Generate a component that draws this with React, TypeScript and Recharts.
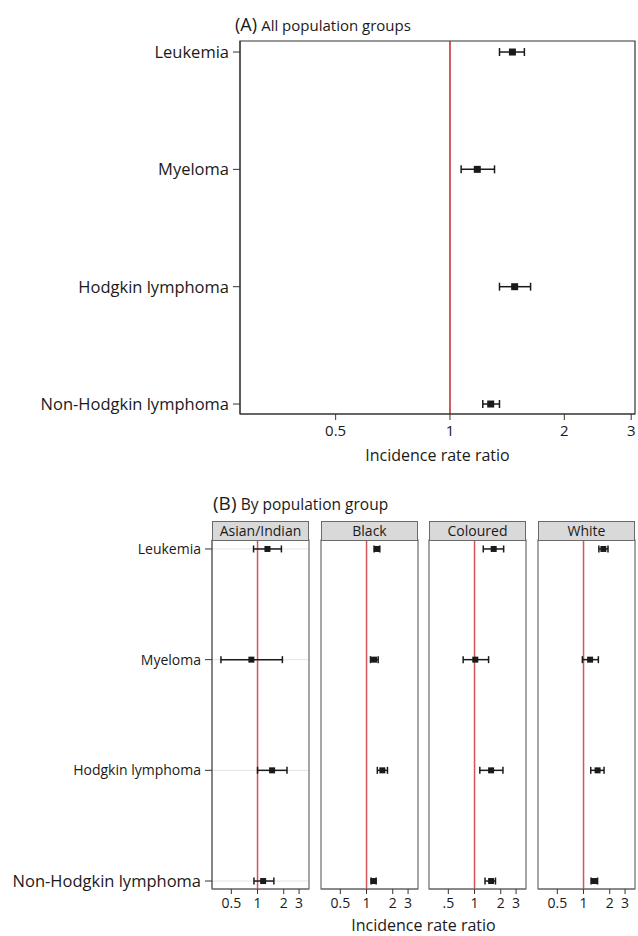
import React from 'react';
import {
  ScatterChart,
  Scatter,
  XAxis,
  YAxis,
  ErrorBar,
  ReferenceLine,
  ReferenceArea,
  CartesianGrid,
} from 'recharts';

// categories (top to bottom)
const diseases = ['Leukemia', 'Myeloma', 'Hodgkin lymphoma', 'Non-Hodgkin lymphoma'];
const rows = [1, 2, 3, 4];

// (A) all population groups: incidence rate ratio + 95% CI
const allIrr = [1.46, 1.18, 1.48, 1.28];
const allLow = [1.35, 1.07, 1.35, 1.22];
const allHigh = [1.57, 1.31, 1.63, 1.35];

// (B) by population group
const groups = ['Asian/Indian', 'Black', 'Coloured', 'White'];
const asianIrr = [1.3, 0.85, 1.47, 1.16];
const asianLow = [0.9, 0.38, 1.0, 0.91];
const asianHigh = [1.88, 1.93, 2.18, 1.54];
const blackIrr = [1.32, 1.22, 1.52, 1.2];
const blackLow = [1.22, 1.11, 1.33, 1.13];
const blackHigh = [1.42, 1.36, 1.74, 1.29];
const colouredIrr = [1.66, 1.02, 1.55, 1.55];
const colouredLow = [1.26, 0.74, 1.15, 1.32];
const colouredHigh = [2.16, 1.45, 2.12, 1.74];
const whiteIrr = [1.69, 1.19, 1.45, 1.32];
const whiteLow = [1.5, 0.97, 1.21, 1.22];
const whiteHigh = [1.91, 1.48, 1.72, 1.45];

const xTicks = [0.5, 1, 2, 3];
const tickLabels = ['0.5', '1', '2', '3'];
const tickLabelsShort = ['.5', '1', '2', '3'];

const toData = (irr: number[], lo: number[], hi: number[]) =>
  rows.map((r, i) => ({ row: r, irr: irr[i], ci: [irr[i] - lo[i], hi[i] - irr[i]] }));

const allData = toData(allIrr, allLow, allHigh);
const groupData = [
  toData(asianIrr, asianLow, asianHigh),
  toData(blackIrr, blackLow, blackHigh),
  toData(colouredIrr, colouredLow, colouredHigh),
  toData(whiteIrr, whiteLow, whiteHigh),
];
const groupTickLabels = [tickLabels, tickLabels, tickLabelsShort, tickLabels];

const FONT = '"Open Sans", sans-serif';
const INK = '#1a1a1a';

const domainA = [0.28, 3.07];
const rowsA = [0.906, 4.085];
const domainB = [0.3, 3.9];
const rowsB = [0.919, 4.072];

const Square = (size: number) => (p: any) => (
  <rect x={p.cx - size / 2} y={p.cy - size / 2} width={size} height={size} fill={INK} />
);

const BTick = (p: any) => {
  const big = p.payload.value === 4;
  return (
    <text x={p.x} y={p.y} dy="0.35em" textAnchor="end" fontSize={big ? 16.5 : 14} fill={INK} fontFamily={FONT}>
      {diseases[p.payload.value - 1]}
    </text>
  );
};

const PanelA = () => (
  <ScatterChart width={638} height={470} margin={{ top: 41, right: 3, bottom: 0, left: 0 }}>
    <XAxis
      type="number"
      dataKey="irr"
      scale="log"
      domain={domainA}
      allowDataOverflow
      ticks={xTicks}
      tickFormatter={(v: number) => tickLabels[xTicks.indexOf(v)]}
      height={56}
      axisLine={{ stroke: '#333' }}
      tickLine={{ stroke: '#333' }}
      tickSize={6}
      tickMargin={5}
      tick={{ fill: INK, fontSize: 15, fontFamily: FONT }}
      label={{ value: 'Incidence rate ratio', position: 'insideBottom', offset: 9, fill: INK, fontSize: 16, fontFamily: FONT }}
    />
    <YAxis
      type="number"
      dataKey="row"
      domain={rowsA}
      reversed
      ticks={rows}
      tickFormatter={(v: number) => diseases[v - 1]}
      width={240}
      axisLine={{ stroke: '#333' }}
      tickLine={{ stroke: '#333' }}
      tickSize={7}
      tickMargin={4}
      tick={{ fill: INK, fontSize: 16.5, fontFamily: FONT }}
    />
    <ReferenceArea x1={domainA[0]} x2={domainA[1]} y1={rowsA[0]} y2={rowsA[1]} fill="none" stroke="#333" strokeWidth={1.2} />
    <ReferenceLine x={1} stroke="#c0262d" strokeWidth={1.5} />
    <Scatter data={allData} shape={Square(7)} isAnimationActive={false}>
      <ErrorBar dataKey="ci" direction="x" width={4} stroke={INK} strokeWidth={1.5} />
    </Scatter>
  </ScatterChart>
);

const plotLeftsB = [212, 321, 429, 538];
const plotWidthB = 97;

const PanelB = ({ idx }: { idx: number }) => {
  const first = idx === 0;
  const yw = first ? plotLeftsB[0] : 0;
  const ml = first ? 0 : 2;
  const width = yw + ml + plotWidthB + 2;
  const left = plotLeftsB[idx] - yw - ml;
  const labels = groupTickLabels[idx];
  return (
    <div style={{ position: 'absolute', left, top: 538 }}>
      <ScatterChart width={width} height={381} margin={{ top: 2, right: 2, bottom: 0, left: ml }}>
        <CartesianGrid vertical={false} stroke="#e4e4e4" />
        <XAxis
          type="number"
          dataKey="irr"
          scale="log"
          domain={domainB}
          allowDataOverflow
          ticks={xTicks}
          tickFormatter={(v: number) => labels[xTicks.indexOf(v)]}
          height={30}
          axisLine={{ stroke: '#666' }}
          tickLine={{ stroke: '#333' }}
          tickSize={5}
          tickMargin={4}
          tick={{ fill: INK, fontSize: 14, fontFamily: FONT }}
        />
        <YAxis
          type="number"
          dataKey="row"
          domain={rowsB}
          reversed
          ticks={rows}
          width={yw}
          axisLine={{ stroke: '#666' }}
          tickLine={first ? { stroke: '#333' } : false}
          tickSize={7}
          tickMargin={4}
          tick={first ? <BTick /> : false}
        />
        <ReferenceArea x1={domainB[0]} x2={domainB[1]} y1={rowsB[0]} y2={rowsB[1]} fill="none" stroke="#6a6a6a" strokeWidth={1.2} />
        <ReferenceLine x={1} stroke="#d4545c" strokeWidth={1.5} />
        <Scatter data={groupData[idx]} shape={Square(6)} isAnimationActive={false}>
          <ErrorBar dataKey="ci" direction="x" width={3.5} stroke={INK} strokeWidth={1.5} />
        </Scatter>
      </ScatterChart>
      <div
        style={{
          position: 'absolute',
          left: plotLeftsB[idx] - left,
          top: -17,
          width: plotWidthB,
          height: 20,
          boxSizing: 'border-box',
          border: '1px solid #6a6a6a',
          background: '#d9d9d9',
          textAlign: 'center',
          fontSize: 14,
          lineHeight: '18px',
          color: INK,
        }}
      >
        {groups[idx]}
      </div>
    </div>
  );
};

export default function App() {
  return (
    <div style={{ position: 'absolute', left: 0, top: 0, width: 638, height: 936, background: '#fff', fontFamily: FONT, color: INK, overflow: 'hidden' }}>
      <div style={{ position: 'absolute', left: 235, top: 12, whiteSpace: 'nowrap' }}>
        <span style={{ fontSize: 18 }}>(A)</span> <span style={{ fontSize: 15 }}>All population groups</span>
      </div>
      <div style={{ position: 'absolute', left: 0, top: 0 }}>
        <PanelA />
      </div>
      <div style={{ position: 'absolute', left: 213, top: 490, whiteSpace: 'nowrap' }}>
        <span style={{ fontSize: 19 }}>(B)</span> <span style={{ fontSize: 15.5 }}>By population group</span>
      </div>
      {groups.map((g, i) => (
        <PanelB key={g} idx={i} />
      ))}
      <div style={{ position: 'absolute', left: 212, width: 423, top: 917, height: 17, textAlign: 'center', fontSize: 16, lineHeight: '17px' }}>
        Incidence rate ratio
      </div>
    </div>
  );
}
